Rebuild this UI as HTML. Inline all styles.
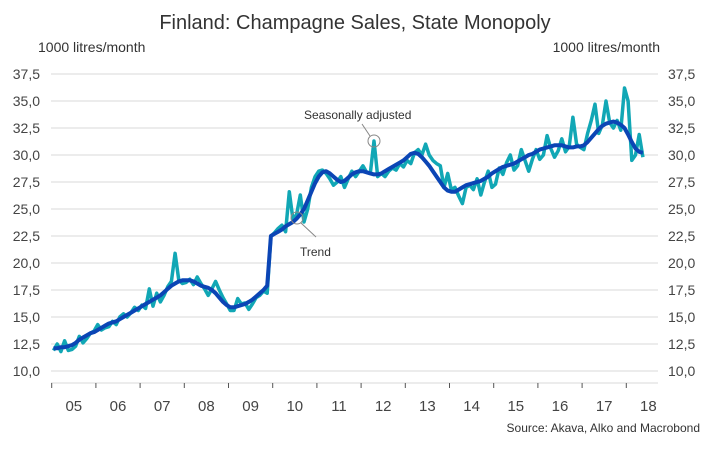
<!DOCTYPE html>
<html><head><meta charset="utf-8"><style>
body{margin:0;background:#fff;font-family:"Liberation Sans",sans-serif}
</style></head><body>
<svg id="c" width="710" height="448" xmlns="http://www.w3.org/2000/svg" style="font-family:'Liberation Sans',sans-serif">
<text x="355" y="29" text-anchor="middle" font-size="20" fill="#333">Finland: Champagne Sales, State Monopoly</text>
<text x="38" y="52" font-size="14" fill="#333">1000 litres/month</text>
<text x="660" y="52" text-anchor="end" font-size="14" fill="#333">1000 litres/month</text>
<text x="700" y="432" text-anchor="end" font-size="12" fill="#333">Source: Akava, Alko and Macrobond</text>
<g id="grid"></g><g id="series"></g>
<g>
<circle cx="374" cy="141" r="6" fill="none" stroke="#888" stroke-width="1"/>
<line x1="370" y1="136" x2="362" y2="124" stroke="#888"/>
<text x="304" y="119" font-size="12" fill="#333">Seasonally adjusted</text>
<circle cx="297" cy="218" r="6" fill="none" stroke="#888" stroke-width="1"/>
<line x1="301" y1="223" x2="316" y2="237" stroke="#888"/>
<text x="300" y="256" font-size="12" fill="#333">Trend</text>
</g>
</svg>
<script>
const yTicks=[10,12.5,15,17.5,20,22.5,25,27.5,30,32.5,35,37.5];
const yearLabels=["05","06","07","08","09","10","11","12","13","14","15","16","17","18"];
const sa=[11.9,12.5,11.8,12.8,11.9,12.0,12.3,13.2,12.6,13.0,13.5,13.7,
14.3,13.8,14.0,14.1,14.6,14.3,15.0,15.3,15.0,15.4,15.9,15.6,
16.1,15.8,17.6,16.0,17.2,16.4,17.0,17.8,18.3,20.9,18.4,18.1,
18.2,18.5,18.0,18.7,18.1,17.6,17.0,17.6,18.3,17.5,16.8,16.2,
15.6,15.6,16.7,16.2,16.3,15.7,16.2,16.8,17.0,17.4,17.2,22.5,
22.8,23.2,23.5,22.9,26.6,24.0,24.5,26.3,23.8,25.0,27.0,28.0,
28.5,28.6,28.3,27.8,27.2,27.5,28.0,27.0,27.8,28.5,28.0,28.5,
29.0,28.4,28.3,31.3,28.0,28.3,28.0,28.5,28.8,28.6,29.2,28.9,
29.5,29.2,30.2,30.5,30.0,31.0,30.0,29.5,29.2,29.0,27.0,28.3,
26.8,27.0,26.2,25.5,27.0,27.2,26.8,27.8,26.3,27.5,28.5,27.0,
27.3,28.8,28.2,29.3,30.0,28.6,29.0,30.5,29.5,28.5,29.6,30.5,
29.6,30.0,31.8,30.6,29.8,30.4,31.5,30.3,30.8,33.5,31.0,30.7,
30.5,32.0,33.2,34.7,32.0,32.8,35.0,33.0,32.5,33.2,32.3,36.2,
35.0,29.5,30.0,31.9,29.8];
const trend=[12.1,12.1,12.2,12.2,12.3,12.4,12.6,12.9,13.1,13.3,13.5,13.6,
13.8,14.0,14.2,14.4,14.5,14.6,14.8,15.0,15.2,15.4,15.6,15.8,
16.0,16.2,16.4,16.6,16.8,17.0,17.3,17.6,17.9,18.1,18.3,18.4,
18.4,18.4,18.3,18.1,17.9,17.8,17.7,17.5,17.2,16.8,16.4,16.1,
15.9,15.9,16.0,16.1,16.2,16.4,16.6,16.9,17.2,17.5,17.9,22.5,
22.7,22.9,23.1,23.4,23.6,23.8,24.1,24.5,25.0,25.8,26.6,27.4,
28.0,28.4,28.5,28.3,28.0,27.7,27.5,27.6,27.9,28.2,28.4,28.5,
28.5,28.4,28.3,28.2,28.2,28.3,28.5,28.7,28.9,29.1,29.3,29.5,
29.8,30.1,30.2,30.1,29.8,29.4,29.0,28.5,28.0,27.5,27.0,26.7,
26.6,26.6,26.8,27.0,27.2,27.3,27.4,27.5,27.6,27.8,28.0,28.3,
28.5,28.7,28.9,29.0,29.1,29.2,29.4,29.6,29.8,30.0,30.1,30.3,
30.5,30.6,30.7,30.8,30.9,30.9,30.9,30.8,30.7,30.7,30.8,30.8,
30.9,31.2,31.6,32.0,32.4,32.7,32.9,33.0,33.1,33.0,32.8,32.5,
31.9,31.2,30.6,30.3,30.2];
const NS="http://www.w3.org/2000/svg";
const X0=51.7,YW=44.2;
function xm(i){return X0+(i+0.5)/12*YW;}
function y(v){return 371-(v-10)/2.5*27;}
const g=document.getElementById('grid'),s=document.getElementById('series');
function mk(tag,at,par){const e=document.createElementNS(NS,tag);for(const k in at)e.setAttribute(k,at[k]);par.appendChild(e);return e;}
yTicks.forEach(v=>{
 const l=mk('line',{x1:51,x2:658,y1:y(v),y2:y(v),stroke:'#d9d9d9','stroke-width':1},g);
 
 
 const lab=v.toFixed(1).replace('.',',');
 const t1=mk('text',{x:40,y:y(v)+5,'text-anchor':'end','font-size':14,fill:'#444'},g);t1.textContent=lab;
 
 
 const t2=mk('text',{x:668,y:y(v)+5,'font-size':14,fill:'#444'},g);t2.textContent=lab;
 
 
});
const ax=mk('line',{x1:51,x2:658,y1:383,y2:383,stroke:'#d9d9d9'},g);


yearLabels.forEach((lb,i)=>{
 const tk=mk('line',{x1:X0+i*YW,x2:X0+i*YW,y1:383,y2:388,stroke:'#555'},g);
 
 
 const t=mk('text',{x:X0+(i+0.5)*YW,y:411,'text-anchor':'middle','font-size':15,fill:'#444'},g);t.textContent=lb;
 
 
});
function path(arr,color,w,name){
 const d=arr.map((v,i)=>(i?'L':'M')+xm(i).toFixed(1)+','+y(v).toFixed(1)).join('');
 const p=mk('path',{d:d,fill:'none',stroke:color,'stroke-width':w,'stroke-linejoin':'round'},s);
 
 
}
path(sa,'#11a7b5',3.5,'seasonally-adjusted-line');
path(trend,'#0b45b5',4,'trend-line');
</script>
</body></html>
